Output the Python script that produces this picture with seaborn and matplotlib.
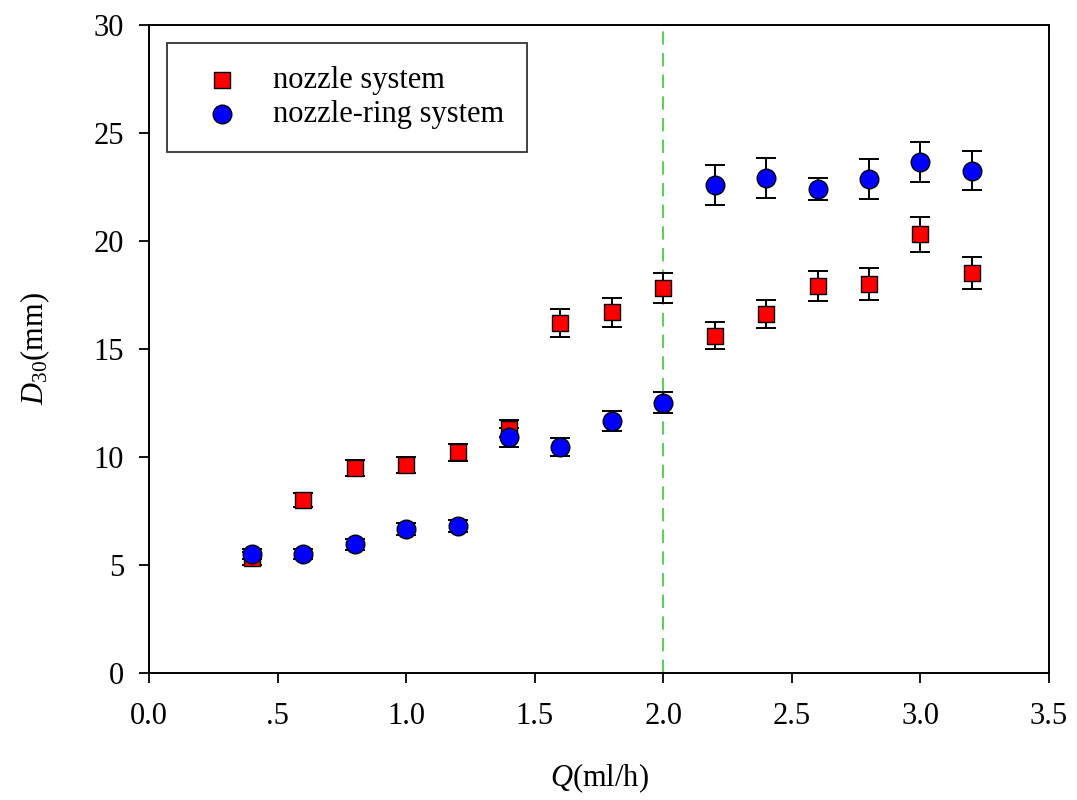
import numpy as np
import pandas as pd
import matplotlib
matplotlib.use("Agg")
import matplotlib.pyplot as plt
import seaborn as sns

#%% data
q = [0.4, 0.6, 0.8, 1.0, 1.2, 1.4, 1.6, 1.8, 2.0, 2.2, 2.4, 2.6, 2.8, 3.0, 3.2]
d_nozzle = [5.3, 8.0, 9.5, 9.6, 10.2, 11.3, 16.2, 16.7, 17.8, 15.6, 16.6, 17.9, 18.0, 20.3, 18.5]
err_nozzle = [0.3, 0.32, 0.37, 0.37, 0.41, 0.4, 0.65, 0.67, 0.7, 0.62, 0.66, 0.69, 0.72, 0.8, 0.74]
d_ring = [5.5, 5.5, 5.95, 6.65, 6.8, 10.9, 10.45, 11.65, 12.5, 22.6, 22.9, 22.4, 22.85, 23.65, 23.25]
err_ring = [0.25, 0.25, 0.25, 0.27, 0.29, 0.43, 0.41, 0.46, 0.49, 0.92, 0.93, 0.5, 0.92, 0.94, 0.92]
x_ticks = [0.0, 0.5, 1.0, 1.5, 2.0, 2.5, 3.0, 3.5]
x_ticklabels = ["0.0", ".5", "1.0", "1.5", "2.0", "2.5", "3.0", "3.5"]
y_ticks = [0, 5, 10, 15, 20, 25, 30]
q_split = 2.0

df = pd.DataFrame({
    "Q": q * 2,
    "D30": d_nozzle + d_ring,
    "err": err_nozzle + err_ring,
    "system": ["nozzle system"] * len(q) + ["nozzle-ring system"] * len(q),
})

#%% style
sns.set_style("ticks")
plt.rcParams["font.family"] = ["Liberation Serif", "DejaVu Serif"]
plt.rcParams["mathtext.fontset"] = "custom"
plt.rcParams["mathtext.rm"] = "Liberation Serif"
plt.rcParams["mathtext.it"] = "Liberation Serif:italic"
plt.rcParams["text.color"] = "black"
plt.rcParams["axes.labelcolor"] = "black"
plt.rcParams["xtick.color"] = "black"
plt.rcParams["ytick.color"] = "black"

fig = plt.figure(figsize=(10.77, 8.0), dpi=100)
ax = fig.add_axes([0.1383, 0.159, 0.8357, 0.81])

colors = {"nozzle system": "#ff0000", "nozzle-ring system": "#0000ff"}
markers = {"nozzle system": "s", "nozzle-ring system": "o"}
sizes = {"nozzle system": 140, "nozzle-ring system": 180}

#%% plot
for name, sub in df.groupby("system", sort=False):
    ax.errorbar(sub["Q"], sub["D30"], yerr=sub["err"], fmt="none",
                ecolor="black", elinewidth=1.4, capsize=7, capthick=1.4, zorder=2)
    sns.scatterplot(data=sub, x="Q", y="D30", marker=markers[name], color=colors[name],
                    s=sizes[name], edgecolor="black", linewidth=1.0, label=name,
                    ax=ax, zorder=3)

ax.axvline(q_split, color="#33cc33", linestyle=(0, (8, 5)), linewidth=1.2, zorder=1)

ax.set_xlim(0, 3.5)
ax.set_ylim(0, 30)
ax.set_xticks(x_ticks)
ax.set_xticklabels(x_ticklabels)
ax.set_yticks(y_ticks)
ax.tick_params(axis="both", direction="out", length=7, width=1.3, labelsize=22,
               top=False, right=False)
ax.tick_params(axis="x", pad=14)
ax.tick_params(axis="y", pad=11)
for sp in ax.spines.values():
    sp.set_visible(True)
    sp.set_linewidth(1.4)
    sp.set_color("black")

ax.set_xlabel(r"$Q$(ml/h)", fontsize=22, labelpad=22)
ax.set_ylabel(r"$D_{30}$(mm)", fontsize=22, labelpad=30)

leg = ax.legend(loc="upper left", bbox_to_anchor=(0.02, 0.972), fontsize=22,
                frameon=True, fancybox=False, edgecolor="black", borderpad=0.75,
                handlelength=2.1, handletextpad=0.62, borderaxespad=0,
                labelspacing=0.18)
leg.get_frame().set_linewidth(1.3)

fig.savefig("out.png", dpi=100)
